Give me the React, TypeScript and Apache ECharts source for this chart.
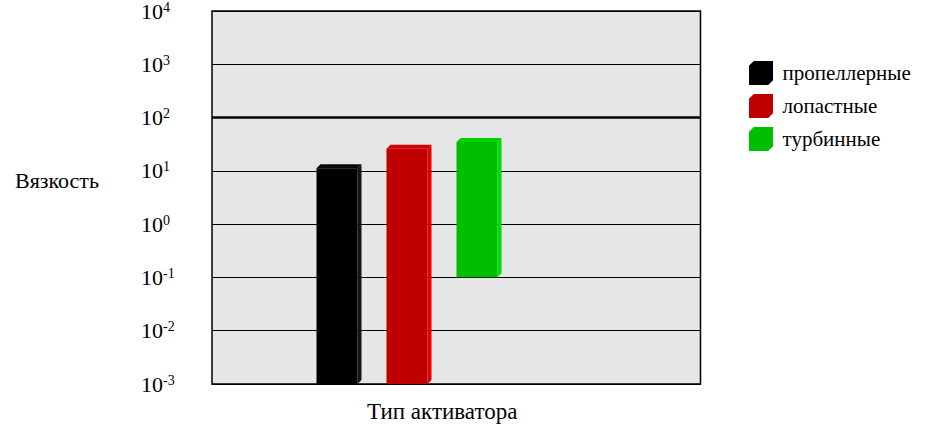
import React, { useEffect, useRef } from "react";
import * as echarts from "echarts";

const categories = ["пропеллерные", "лопастные", "турбинные"];
const lowValues = [0.001, 0.001, 0.1];
const highValues = [13, 30, 40];
const frontColors = ["#000000", "#C00000", "#00BE00"];
const sideColors = ["#151515", "#E80000", "#00E000"];
const topColors = ["#0A0A0A", "#D40000", "#00D000"];
const yMin = 0.001;
const yMax = 10000;
const xTitle = "Тип активатора";
const yTitle = "Вязкость";

const FONT = "Liberation Serif";

export default function App() {
  const ref = useRef<HTMLDivElement>(null);
  useEffect(() => {
    if (!ref.current) return;
    const chart = echarts.init(ref.current, undefined, { renderer: "svg" });
    const renderItem = (params: any, api: any) => {
      const ci = api.value(0);
      const lo = api.value(1);
      const hi = api.value(2);
      const pB = api.coord([ci, lo]);
      const pT = api.coord([ci, hi]);
      const d = 4;
      const w = 41;
      const x0 = pB[0] - (w + d) / 2;
      const x1 = x0 + w;
      const yB = pB[1];
      const yT = pT[1] + d;
      return {
        type: "group",
        children: [
          {
            type: "polygon",
            shape: { points: [[x1, yT], [x1 + d, yT - d], [x1 + d, yB - d], [x1, yB]] },
            style: { fill: sideColors[ci] },
          },
          {
            type: "polygon",
            shape: { points: [[x0, yT], [x0 + d, yT - d], [x1 + d, yT - d], [x1, yT]] },
            style: { fill: topColors[ci] },
          },
          {
            type: "rect",
            shape: { x: x0, y: yT, width: w, height: yB - yT },
            style: { fill: frontColors[ci] },
          },
        ],
      };
    };
    const barSeries = categories.map((name, i) => ({
      type: "custom",
      name,
      xAxisIndex: 1,
      yAxisIndex: 1,
      itemStyle: { color: frontColors[i] },
      encode: { x: 0, y: [1, 2] },
      data: [[i, lowValues[i], highValues[i]]],
      renderItem,
      z: 3,
    }));
    chart.setOption({
      animation: false,
      textStyle: { fontFamily: FONT },
      grid: [
        {
          left: 212,
          top: 10,
          width: 488.5,
          height: 374,
          show: true,
          backgroundColor: "#E6E6E6",
          borderColor: "#000",
          borderWidth: 1.5,
        },
        { left: 304, top: 10, width: 210, height: 374 },
      ],
      xAxis: [
        { gridIndex: 0, type: "category", data: [""], show: false },
        { gridIndex: 1, type: "category", data: categories, show: false },
      ],
      yAxis: [
        {
          gridIndex: 0,
          type: "log",
          logBase: 10,
          min: yMin,
          max: yMax,
          axisLine: { show: false },
          axisTick: { show: false },
          splitLine: { show: true, lineStyle: { color: "#000", width: 1.2 } },
          axisLabel: {
            align: "left",
            margin: 71,
            fontFamily: FONT,
            formatter: (v: number) => {
              const e = Math.round(Math.log10(v));
              return `{b|10}{e|${e}}`;
            },
            rich: {
              b: { fontSize: 22, fontFamily: FONT, color: "#000" },
              e: { fontSize: 14, fontFamily: FONT, color: "#000", verticalAlign: "top" },
            },
          },
        },
        {
          gridIndex: 1,
          type: "log",
          logBase: 10,
          min: yMin,
          max: yMax,
          show: false,
          splitLine: { show: false },
        },
      ],
      legend: {
        orient: "vertical",
        left: 744,
        top: 56,
        itemWidth: 25,
        itemHeight: 24,
        itemGap: 9,
        icon: "path://M0,5L5,0L25,0L25,20L20,25L0,25Z",
        data: categories,
        textStyle: { fontSize: 21, fontFamily: FONT, color: "#000", padding: [0, 0, 0, 4] },
      },
      graphic: [
        {
          type: "text",
          left: 15,
          top: 169,
          style: { text: yTitle, fontSize: 22, fontFamily: FONT, fill: "#000" },
        },
        {
          type: "text",
          left: 367,
          top: 400,
          style: { text: xTitle, fontSize: 23, fontFamily: FONT, fill: "#000" },
        },
      ],
      series: [
        ...barSeries,
        {
          type: "line",
          name: "ref",
          xAxisIndex: 0,
          yAxisIndex: 0,
          data: [],
          markLine: {
            silent: true,
            symbol: "none",
            label: { show: false },
            lineStyle: { color: "#000", width: 2.5, type: "solid" },
            data: [{ yAxis: 100 }],
          },
        },
      ],
    });
    return () => chart.dispose();
  }, []);
  return <div ref={ref} style={{ width: 939, height: 436, position: "absolute", left: 0, top: 0 }} />;
}
